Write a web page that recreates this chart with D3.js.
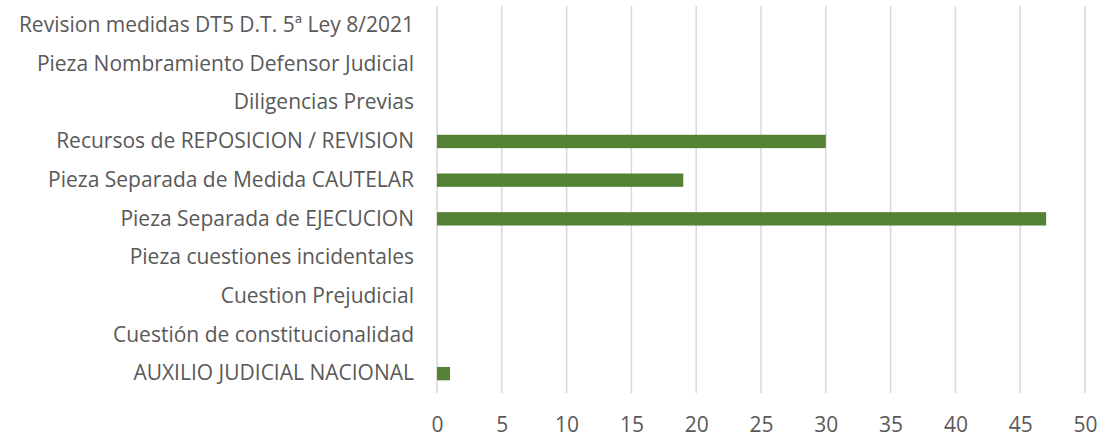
<!DOCTYPE html>
<html>
<head>
<meta charset="utf-8">
<script src="https://cdn.jsdelivr.net/npm/d3@7"></script>
<style>
  body { margin: 0; background: #fff; }
  .tickText { font-family: "Open Sans", sans-serif; font-size: 21px; fill: #595959; }
</style>
</head>
<body>
<div class="chart"></div>
<script>
// Chart data, top to bottom as in the picture
var categories = [
  "Revision medidas DT5 D.T. 5ª Ley 8/2021",
  "Pieza Nombramiento Defensor Judicial",
  "Diligencias Previas",
  "Recursos de REPOSICION / REVISION",
  "Pieza Separada de Medida CAUTELAR",
  "Pieza Separada de EJECUCION",
  "Pieza cuestiones incidentales",
  "Cuestion Prejudicial",
  "Cuestión de constitucionalidad",
  "AUXILIO JUDICIAL NACIONAL"
];
var values = [0, 0, 0, 30, 19, 47, 0, 0, 0, 1];
var xTicks = [0, 5, 10, 15, 20, 25, 30, 35, 40, 45, 50];

var width = 1105;
var height = 438;
var margin = {top: 6, right: 20, bottom: 45, left: 437};

var svg = d3.select(".chart")
  .append("svg")
  .attr("width", width)
  .attr("height", height);

// Scales
var x = d3.scaleLinear()
  .domain([0, 50])
  .range([margin.left, width - margin.right]);

var y = d3.scaleBand()
  .domain(categories)
  .range([margin.top, height - margin.bottom])
  .paddingInner(0.655)
  .paddingOuter(0.3275);

// Vertical gridlines
svg.append("g")
  .selectAll("line")
  .data(xTicks)
  .enter()
  .append("line")
    .attr("x1", function(d) { return x(d); })
    .attr("x2", function(d) { return x(d); })
    .attr("y1", margin.top)
    .attr("y2", height - margin.bottom)
    .attr("stroke", "#d9d9d9")
    .attr("stroke-width", 1.5);

// Bars
svg.append("g")
  .selectAll("rect")
  .data(values)
  .enter()
  .append("rect")
    .attr("x", x(0))
    .attr("y", function(d, i) { return y(categories[i]); })
    .attr("width", function(d) { return x(d) - x(0); })
    .attr("height", y.bandwidth())
    .attr("fill", "#548235");

// Category axis
var yAxis = svg.append("g")
  .attr("transform", "translate(" + margin.left + ",0)")
  .call(d3.axisLeft(y).tickSize(0).tickPadding(23));
yAxis.select(".domain").remove();
yAxis.selectAll("text").attr("class", "tickText");

// Value axis
var xAxis = svg.append("g")
  .attr("transform", "translate(0," + (height - margin.bottom) + ")")
  .call(d3.axisBottom(x).tickValues(xTicks).tickSize(0).tickPadding(24));
xAxis.select(".domain").remove();
xAxis.selectAll("text").attr("class", "tickText");
</script>
</body>
</html>
